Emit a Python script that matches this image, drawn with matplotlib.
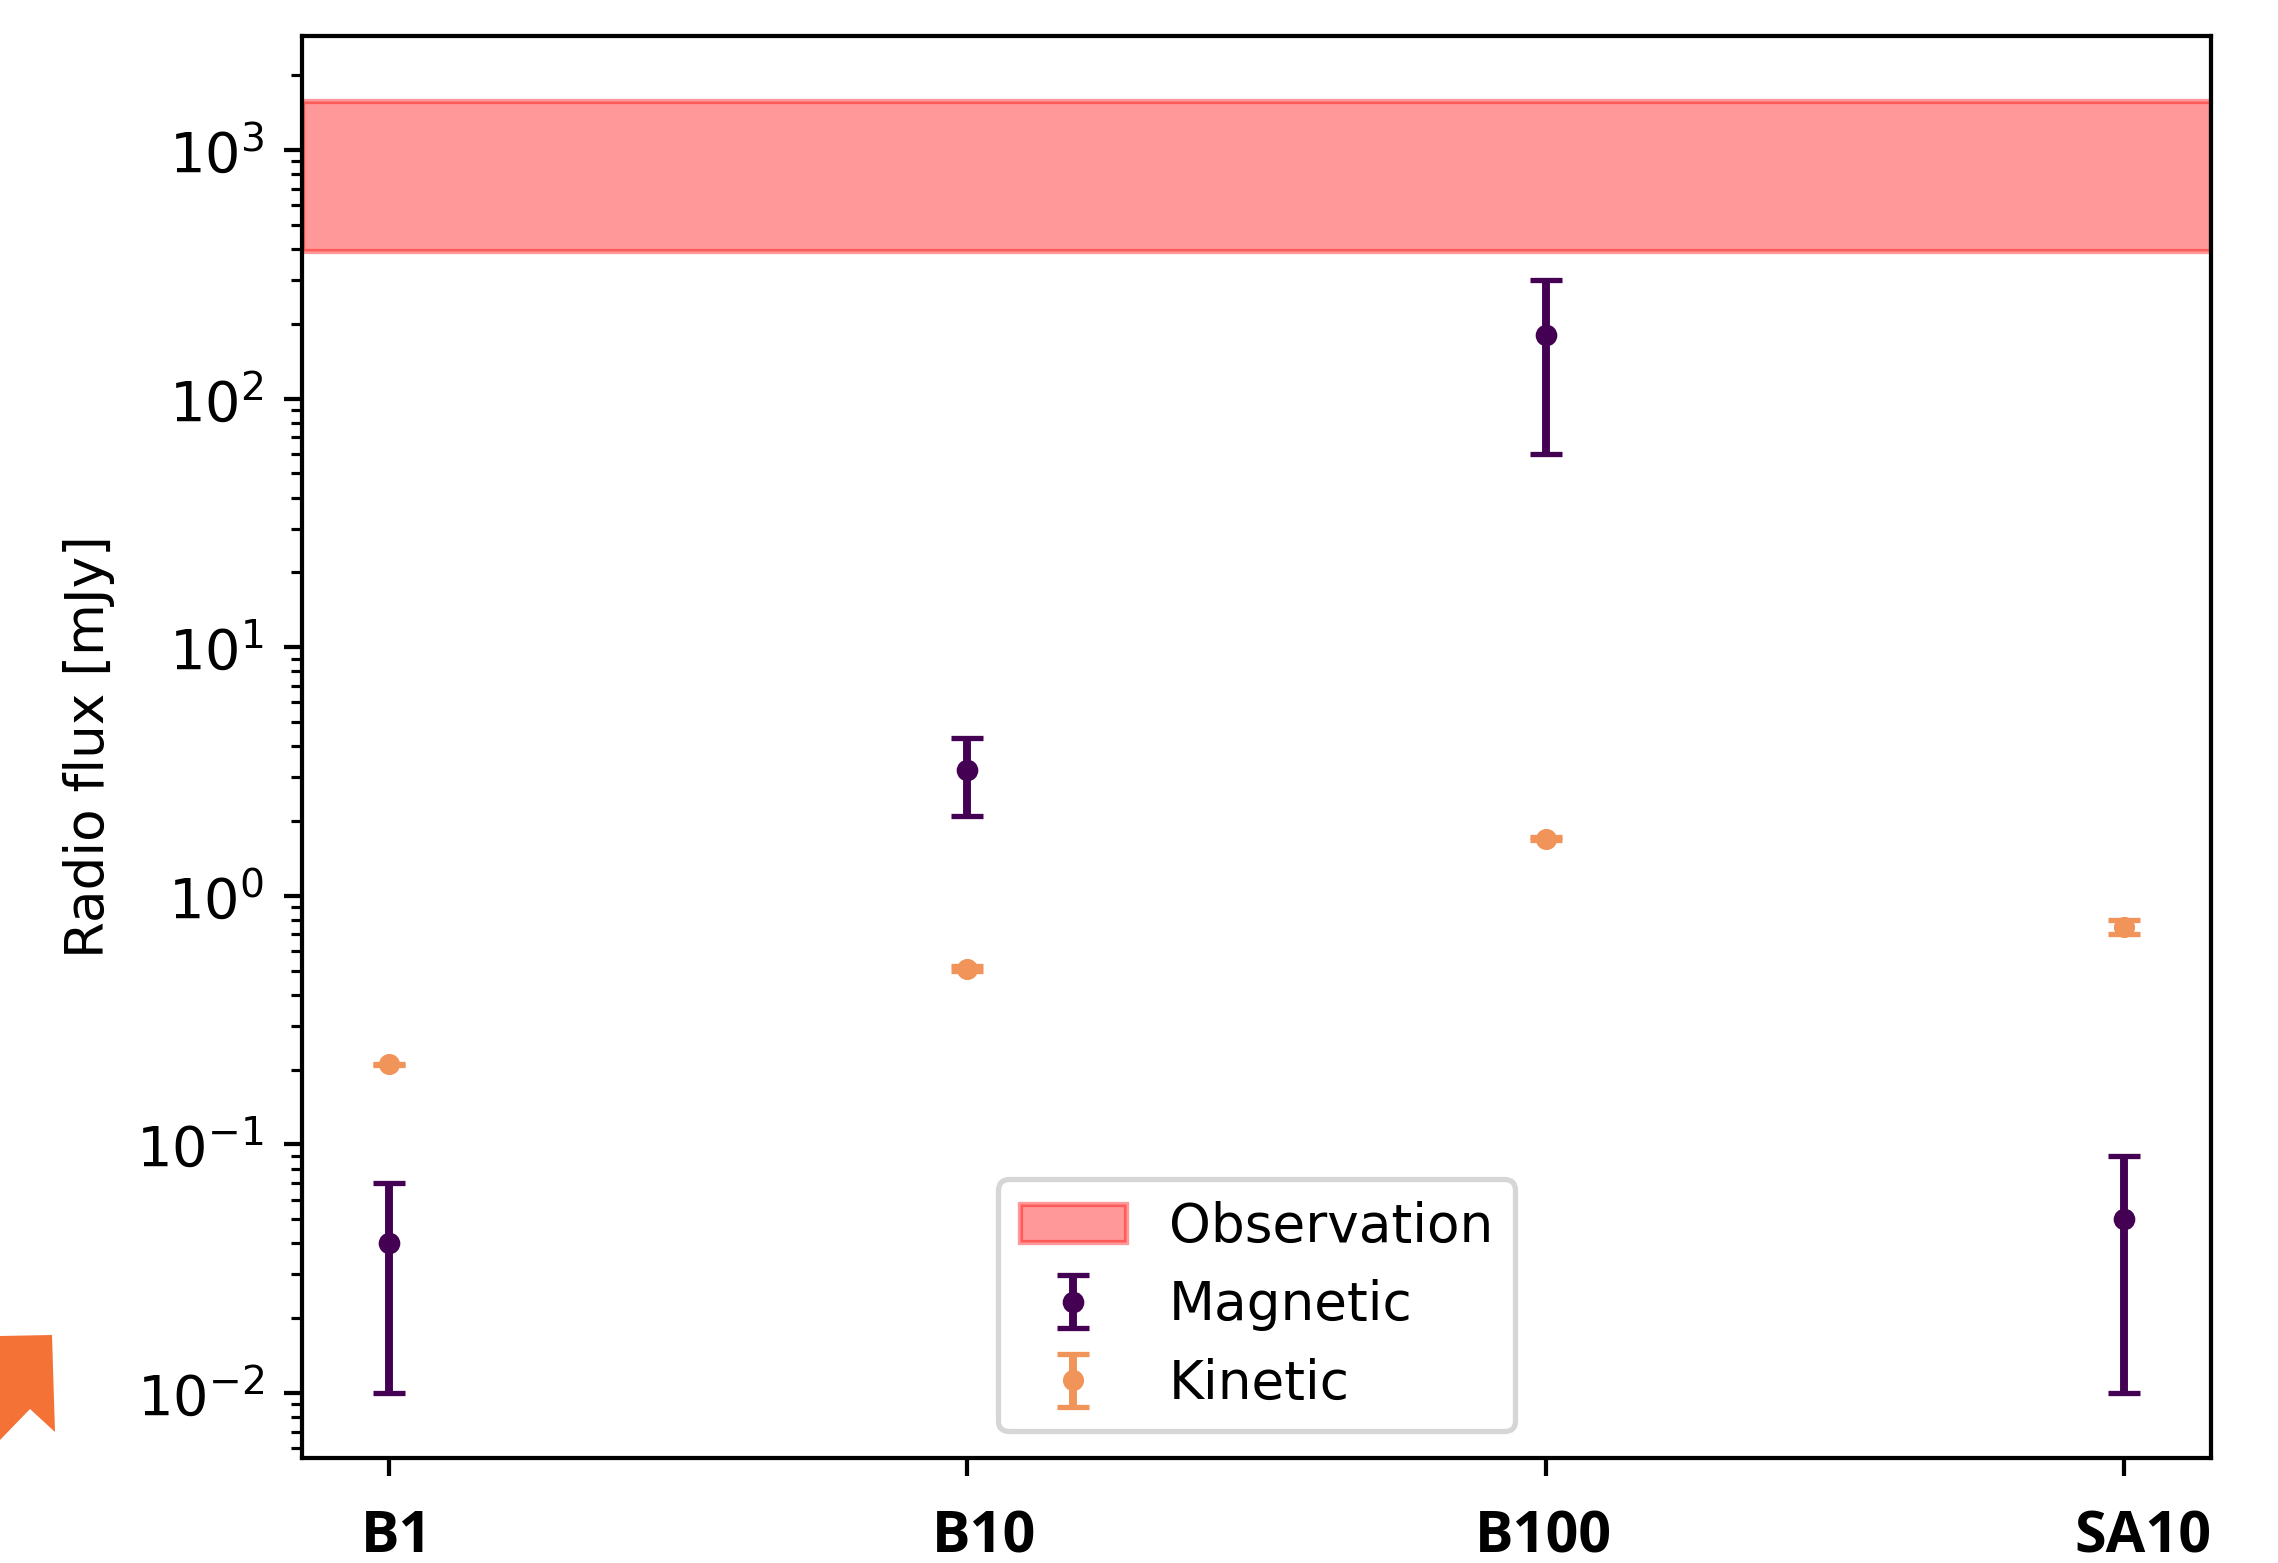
import matplotlib
matplotlib.use("Agg")
import matplotlib.pyplot as plt
from matplotlib.patches import Polygon
from matplotlib.transforms import ScaledTranslation
import numpy as np

W, H = 2278, 1563
DPI = 380
plt.rcParams["font.size"] = 10.1

categories = ["B1", "B10", "B100", "SA10"]
magnetic = [0.04, 3.2, 180, 0.05]
magnetic_low = [0.01, 2.1, 60, 0.01]
magnetic_high = [0.07, 4.3, 300, 0.09]
kinetic = [0.21, 0.51, 1.7, 0.75]
kinetic_low = [0.209, 0.50, 1.675, 0.70]
kinetic_high = [0.211, 0.52, 1.725, 0.80]
obs_low, obs_high = 393, 1570

fig = plt.figure(figsize=(W / DPI, H / DPI), dpi=DPI)
ax = fig.add_axes([302 / W, 1 - 1458 / H, (2211 - 302) / W, (1458 - 36) / H])

x = np.arange(len(categories))
ax.set_yscale("log")
ax.axhspan(obs_low, obs_high, color="red", alpha=0.4, label="Observation")
ax.errorbar(x, magnetic,
            yerr=[np.array(magnetic) - np.array(magnetic_low), np.array(magnetic_high) - np.array(magnetic)],
            fmt="o", color="#440154", ms=3.1, capsize=3, label="Magnetic")
ax.errorbar(x, kinetic,
            yerr=[np.array(kinetic) - np.array(kinetic_low), np.array(kinetic_high) - np.array(kinetic)],
            fmt="o", color="#f1945a", ms=3.0, capsize=3, label="Kinetic")

ax.set_xlim(-0.15, 3.15)
ax.set_ylim(0.00548, 2875)
ax.set_ylabel("Radio flux [mJy]")
ax.set_yticks([10.0 ** e for e in range(-2, 4)])
ax.tick_params(axis="y", which="major", labelsize=10.6, pad=3.7)
ax.set_xticks(x)
ax.set_xticklabels(categories, family="Open Sans", fontweight="bold", fontsize=10.9)
ax.tick_params(axis="x", pad=6)
offsets = [8, 17, -2, 19]
for lab, dx in zip(ax.get_xticklabels(), offsets):
    lab.set_transform(lab.get_transform() + ScaledTranslation(dx / DPI, 0, fig.dpi_scale_trans))

ax.legend(loc="lower center")

# orange bookmark ribbon at the left edge of the page
ribbon = [(0, 1336), (52, 1335), (55, 1432), (30, 1409), (0, 1440)]
fig.add_artist(Polygon([(px / W, 1 - py / H) for px, py in ribbon], closed=True,
                       transform=fig.transFigure, facecolor="#f47236", edgecolor="none"))

fig.savefig("out.png", dpi=DPI)
